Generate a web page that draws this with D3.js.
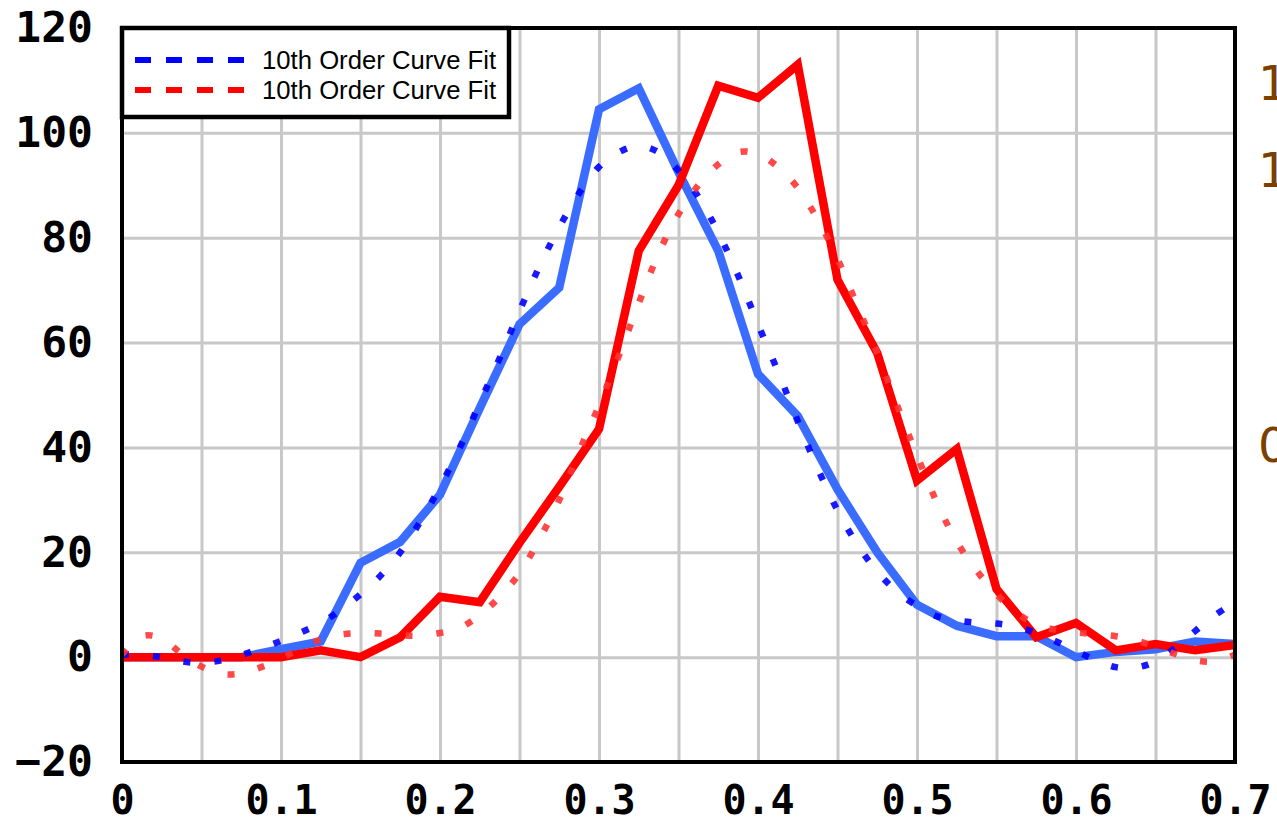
<!DOCTYPE html>
<html>
<head>
<meta charset="utf-8">
<script src="https://cdn.jsdelivr.net/npm/d3@7"></script>
<style>
  html, body { margin: 0; padding: 0; background: #fff; }
  svg { display: block; }
</style>
</head>
<body>
<div id="chart"></div>
<script>
// measured values, one point every 0.025
const measX = [0, 0.025, 0.05, 0.075, 0.1, 0.125, 0.15, 0.175, 0.2, 0.225, 0.25, 0.275, 0.3, 0.325, 0.35,
  0.375, 0.4, 0.425, 0.45, 0.475, 0.5, 0.525, 0.55, 0.575, 0.6, 0.625, 0.65, 0.675, 0.7];
const blueMeasured = [0, 0, 0, 0, 1.5, 3, 18, 22, 31, 47.5, 63.5, 70.5, 104.5, 108.5, 92.5,
  77.5, 54, 46, 32, 20, 10, 6, 4, 4, 0, 1, 1.5, 3, 2.5];
const redMeasured = [0, 0, 0, 0, 0, 1.3, 0, 3.8, 11.5, 10.5, 21.8, 32.5, 43.5, 77.5, 90,
  109, 106.7, 113, 72, 58, 33.7, 39.7, 13, 3.8, 6.5, 1.3, 2.5, 1.3, 2.3];

// 10th order curve fits, read every 0.0125
const fitX = [0, 0.0125, 0.025, 0.0375, 0.05, 0.0625, 0.075, 0.0875, 0.1, 0.1125, 0.125, 0.1375,
  0.15, 0.1625, 0.175, 0.1875, 0.2, 0.2125, 0.225, 0.2375, 0.25, 0.2625, 0.275, 0.2875,
  0.3, 0.3125, 0.325, 0.3375, 0.35, 0.3625, 0.375, 0.3875, 0.4, 0.4125, 0.425, 0.4375,
  0.45, 0.4625, 0.475, 0.4875, 0.5, 0.5125, 0.525, 0.5375, 0.55, 0.5625, 0.575, 0.5875,
  0.6, 0.6125, 0.625, 0.6375, 0.65, 0.6625, 0.675, 0.6875, 0.7];
const blueFit = [0.5, 0.4, 0, -0.8, -1.1, -0.6, 0.4, 1.7, 3.1, 4.7, 6.5, 9,
  12, 15.5, 20, 25.8, 32.5, 40, 48.5, 57, 66, 74.5, 82, 88.5,
  93.5, 96.3, 97.5, 96.3, 92.8, 87.8, 81, 72.8, 63.5, 54.5, 45, 36,
  28, 21.5, 16.3, 12.5, 9.8, 7.8, 7, 6.6, 6.4, 5.8, 4.6, 3,
  1.2, -0.6, -1.9, -2, -0.8, 1.8, 5, 8, 10.5];
const redFit = [0.5, 4, 3.6, 0.6, -1.8, -3.2, -3.1, -1.9, -0.3, 1.8, 3.4, 4.3,
  4.6, 4.5, 4.2, 4.1, 4.6, 5.6, 8, 11.5, 16, 22.5, 30, 39.2,
  48, 57.5, 67.5, 77, 84.5, 90, 94, 96.3, 96, 93.5, 89.5, 83.5,
  76, 67, 58, 48, 38.5, 29.5, 22, 16.5, 12, 8.5, 6.2, 5.2,
  4.7, 4.4, 4, 3.2, 2, 0.6, -0.6, -0.8, 0.5];

const xTicks = [0, 0.1, 0.2, 0.3, 0.4, 0.5, 0.6, 0.7];
const xGrid = [0.05, 0.1, 0.15, 0.2, 0.25, 0.3, 0.35, 0.4, 0.45, 0.5, 0.55, 0.6, 0.65];
const yTicks = [-20, 0, 20, 40, 60, 80, 100, 120];
const legendLabels = ['10th Order Curve Fit', '10th Order Curve Fit'];
const cutLabels = ['1', '1', '0'];

const width = 1277;
const height = 826;
const margin = { top: 28, right: 42, bottom: 64, left: 122 };
const innerW = width - margin.left - margin.right;
const innerH = height - margin.top - margin.bottom;

const x = d3.scaleLinear().domain([0, 0.7]).range([0, innerW]);
const y = d3.scaleLinear().domain([-20, 120]).range([innerH, 0]);

const svg = d3
  .select('#chart')
  .append('svg')
  .attr('width', width)
  .attr('height', height);

const g = svg
  .append('g')
  .attr('transform', `translate(${margin.left}, ${margin.top})`);

// grid
g.append('g')
  .attr('class', 'grid x')
  .attr('transform', `translate(0, ${innerH})`)
  .call(d3.axisBottom(x).tickValues(xGrid).tickSize(-innerH).tickFormat(''))
  .call(s => s.select('.domain').remove());

g.append('g')
  .attr('class', 'grid y')
  .call(d3.axisLeft(y).tickValues(yTicks.slice(1, -1)).tickSize(-innerW).tickFormat(''))
  .call(s => s.select('.domain').remove());

g.selectAll('.grid line')
  .attr('stroke', '#c8c8c8')
  .attr('stroke-width', 3);

// tick labels
const xAxis = g
  .append('g')
  .attr('transform', `translate(0, ${innerH})`)
  .call(
    d3.axisBottom(x)
      .tickValues(xTicks)
      .tickSize(0)
      .tickPadding(24)
      .tickFormat(d => (d === 0 ? '0' : d3.format('.1f')(d)))
  );

const yAxis = g
  .append('g')
  .call(d3.axisLeft(y).tickValues(yTicks).tickSize(0).tickPadding(29).tickFormat(d3.format('d')));

[xAxis, yAxis].forEach((a, i) => {
  a.select('.domain').remove();
  a.selectAll('text')
    .attr('fill', '#000')
    .style('font-family', '"DejaVu Sans Mono", monospace')
    .style('font-weight', 'bold')
    .style('font-size', i === 0 ? '40px' : '43px');
});

// lines
g.append('clipPath')
  .attr('id', 'plot-clip')
  .append('rect')
  .attr('width', innerW)
  .attr('height', innerH);

const line = d3
  .line()
  .x(d => x(d[0]))
  .y(d => y(d[1]));

const fitLine = d3
  .line()
  .x(d => x(d[0]))
  .y(d => y(d[1]))
  .curve(d3.curveCatmullRom);

const plot = g.append('g').attr('clip-path', 'url(#plot-clip)');

const series = [
  { xs: measX, ys: blueMeasured, color: '#3a6cff', fit: false },
  { xs: measX, ys: redMeasured, color: '#ff0000', fit: false },
  { xs: fitX, ys: blueFit, color: '#0000ff', fit: true },
  { xs: fitX, ys: redFit, color: '#ff3434', fit: true }
];

series.forEach(s => {
  const pts = s.xs.map((v, i) => [v, s.ys[i]]);
  const path = plot
    .append('path')
    .attr('fill', 'none')
    .attr('stroke', s.color);

  if (s.fit) {
    path
      .attr('d', fitLine(pts))
      .attr('stroke-width', 6.5)
      .attr('stroke-dasharray', '7,24')
      .attr('opacity', 0.9);
  } else {
    path
      .attr('d', line(pts))
      .attr('stroke-width', 8.5)
      .attr('stroke-linejoin', 'miter');
  }
});

// plot frame
g.append('rect')
  .attr('width', innerW)
  .attr('height', innerH)
  .attr('fill', 'none')
  .attr('stroke', '#000')
  .attr('stroke-width', 4);

// legend
const legend = g.append('g').attr('class', 'legend');

legend
  .append('rect')
  .attr('x', 0)
  .attr('y', 0)
  .attr('width', 387)
  .attr('height', 89)
  .attr('fill', '#fff')
  .attr('stroke', '#000')
  .attr('stroke-width', 4.5);

const legendColors = ['#0000ff', '#ff0000'];

legendLabels.forEach((label, i) => {
  const ly = 32 + i * 30;
  legend
    .append('line')
    .attr('x1', 13)
    .attr('x2', 122)
    .attr('y1', ly)
    .attr('y2', ly)
    .attr('stroke', legendColors[i])
    .attr('stroke-width', 6)
    .attr('stroke-dasharray', '16,15');

  legend
    .append('text')
    .attr('x', 140)
    .attr('y', ly + 9)
    .attr('fill', '#000')
    .style('font-family', '"Liberation Sans", Arial, sans-serif')
    .style('font-size', '25.7px')
    .text(label);
});

// labels of the neighbouring chart, cut off at the right edge
const cutY = [100, 187, 462];
svg
  .append('g')
  .selectAll('text')
  .data(cutLabels)
  .join('text')
  .attr('x', 1258)
  .attr('y', (d, i) => cutY[i])
  .attr('fill', '#7a4000')
  .style('font-family', '"DejaVu Sans", sans-serif')
  .style('font-size', '48px')
  .text(d => d);
</script>
</body>
</html>
